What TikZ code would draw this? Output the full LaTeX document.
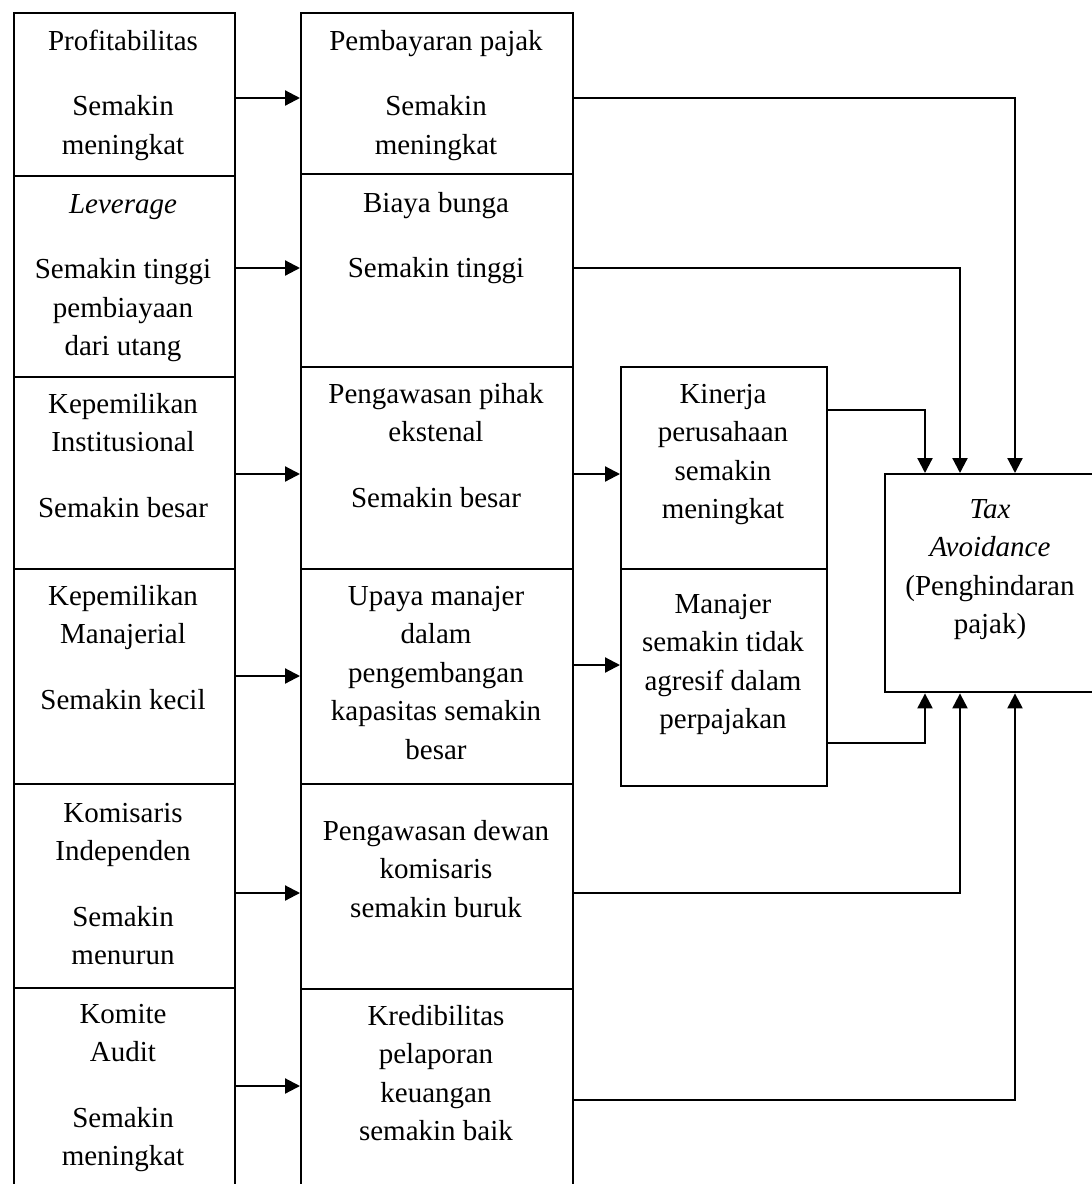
\documentclass[tikz,border=0pt]{standalone}
\usepackage{fontspec}
\setmainfont{Liberation Serif}
\usetikzlibrary{arrows.meta}
\tikzset{
  box/.style={draw=black, line width=2.4pt, rectangle, inner sep=0pt, anchor=north west},
  txt/.style={inner sep=0pt, anchor=base, font=\fontsize{29}{38.5}\selectfont},
  arr/.style={line width=2.2pt, -{Triangle[length=15pt,width=15pt]}},
  ln/.style={line width=2.2pt}
}
\newcommand{\tl}[1]{\begin{tabular}[t]{@{}c@{}}#1\end{tabular}}
\begin{document}
\begin{tikzpicture}[x=1pt,y=-1pt]
\useasboundingbox (0,0) rectangle (1092,1184);
\clip (0,0) rectangle (1092,1184);
% left column
\node[box, minimum width=221pt, minimum height=163pt] (L1) at (13,12) {};
\node[box, minimum width=221pt, minimum height=201pt] (L2) at (13,175) {};
\node[box, minimum width=221pt, minimum height=192pt] (L3) at (13,376) {};
\node[box, minimum width=221pt, minimum height=215pt] (L4) at (13,568) {};
\node[box, minimum width=221pt, minimum height=204pt] (L5) at (13,783) {};
\node[box, minimum width=221pt, minimum height=210pt] (L6) at (13,987) {};
% middle column
\node[box, minimum width=272pt, minimum height=161pt] (M1) at (300,12) {};
\node[box, minimum width=272pt, minimum height=193pt] (M2) at (300,173) {};
\node[box, minimum width=272pt, minimum height=202pt] (M3) at (300,366) {};
\node[box, minimum width=272pt, minimum height=215pt] (M4) at (300,568) {};
\node[box, minimum width=272pt, minimum height=205pt] (M5) at (300,783) {};
\node[box, minimum width=272pt, minimum height=210pt] (M6) at (300,988) {};
% third column
\node[box, minimum width=206pt, minimum height=202pt] (K) at (620,366) {};
\node[box, minimum width=206pt, minimum height=217pt] (J) at (620,568) {};
% tax avoidance
\node[box, minimum width=214pt, minimum height=218pt] (T) at (884,473) {};

% texts
\node[txt] (L1t) at (123,50) {\tl{Profitabilitas\\[27pt]Semakin\\meningkat}};
\node[txt] (L2t) at (123,213) {\tl{\textit{Leverage}\\[27pt]Semakin tinggi\\pembiayaan\\dari utang}};
\node[txt] (L3t) at (123,413) {\tl{Kepemilikan\\Institusional\\[27pt]Semakin besar}};
\node[txt] (L4t) at (123,605) {\tl{Kepemilikan\\Manajerial\\[27pt]Semakin kecil}};
\node[txt] (L5t) at (123,822) {\tl{Komisaris\\Independen\\[27pt]Semakin\\menurun}};
\node[txt] (L6t) at (123,1023) {\tl{Komite\\Audit\\[27pt]Semakin\\meningkat}};
\node[txt] (M1t) at (436,50) {\tl{Pembayaran pajak\\[27pt]Semakin\\meningkat}};
\node[txt] (M2t) at (436,212) {\tl{Biaya bunga\\[27pt]Semakin tinggi}};
\node[txt] (M3t) at (436,403) {\tl{Pengawasan pihak\\ekstenal\\[27pt]Semakin besar}};
\node[txt] (M4t) at (436,605) {\tl{Upaya manajer\\dalam\\pengembangan\\kapasitas semakin\\besar}};
\node[txt] (M5t) at (436,840) {\tl{Pengawasan dewan\\komisaris\\semakin buruk}};
\node[txt] (M6t) at (436,1025) {\tl{Kredibilitas\\pelaporan\\keuangan\\semakin baik}};
\node[txt] (Kt) at (723,403) {\tl{Kinerja\\perusahaan\\semakin\\meningkat}};
\node[txt] (Jt) at (723,613) {\tl{Manajer\\semakin tidak\\agresif dalam\\perpajakan}};
\node[txt] (Tt) at (990,518) {\tl{\textit{Tax}\\\textit{Avoidance}\\(Penghindaran\\pajak)}};

% arrows left -> middle
\draw[arr] (L1.east |- 0,98) -- (M1.west |- 0,98);
\draw[arr] (L2.east |- 0,268) -- (M2.west |- 0,268);
\draw[arr] (L3.east |- 0,474) -- (M3.west |- 0,474);
\draw[arr] (L4.east |- 0,676) -- (M4.west |- 0,676);
\draw[arr] (L5.east |- 0,893) -- (M5.west |- 0,893);
\draw[arr] (L6.east |- 0,1086) -- (M6.west |- 0,1086);
% middle -> third
\draw[arr] (M3.east |- 0,474) -- (K.west |- 0,474);
\draw[arr] (M4.east |- 0,665) -- (J.west |- 0,665);
% to tax avoidance
\draw[arr] (M1.east |- 0,98) -| (T.north -| 1015,0);
\draw[arr] (M2.east |- 0,268) -| (T.north -| 960,0);
\draw[arr] (K.east |- 0,410) -| (T.north -| 925,0);
\draw[arr] (J.east |- 0,743) -| (T.south -| 925,0);
\draw[arr] (M5.east |- 0,893) -| (T.south -| 960,0);
\draw[arr] (M6.east |- 0,1100) -| (T.south -| 1015,0);
\end{tikzpicture}
\end{document}
